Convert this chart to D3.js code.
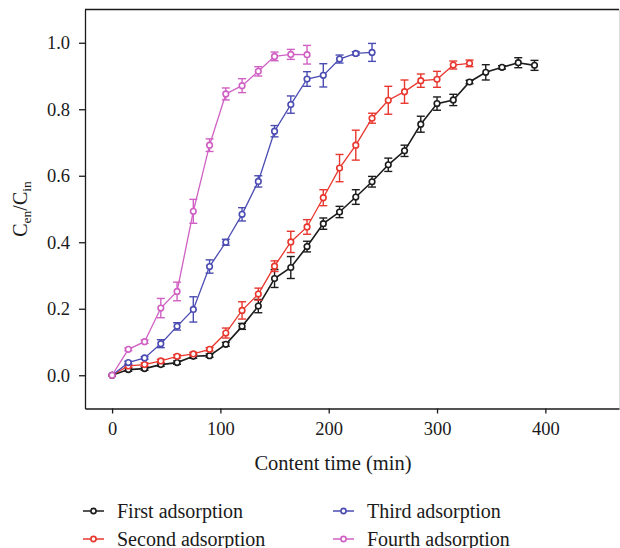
<!DOCTYPE html>
<html>
  <head>
    <meta charset="utf-8">
    <script src="https://d3js.org/d3.v7.min.js"></script>
    <style>
      body { margin: 0; background: #fff; }
      svg { display: block; font-family: 'Liberation Serif', 'DejaVu Serif', serif; }
      .tick text { font-family: 'Liberation Serif', 'DejaVu Serif', serif; font-size: 18.5px; fill: #1a1a1a; }
      .tick line, .domain { stroke: #1a1a1a; stroke-width: 1.3; }
    </style>
  </head>
  <body>
    <svg></svg>
    <script type="text/javascript">
      const times = [0, 15, 30, 45, 60, 75, 90, 105, 120, 135, 150, 165, 180, 195, 210,
                     225, 240, 255, 270, 285, 300, 315, 330, 345, 360, 375, 390]

      const firstValues = [0, 0.017, 0.020, 0.032, 0.038, 0.057, 0.059, 0.093, 0.147, 0.208,
                           0.291, 0.324, 0.387, 0.456, 0.491, 0.536, 0.582, 0.633, 0.675,
                           0.755, 0.817, 0.828, 0.882, 0.911, 0.926, 0.940, 0.932]
      const firstErrors = [0, 0.005, 0.005, 0.005, 0.005, 0.006, 0.005, 0.006, 0.009, 0.020,
                           0.027, 0.033, 0.016, 0.017, 0.017, 0.022, 0.016, 0.020, 0.017,
                           0.024, 0.020, 0.017, 0.005, 0.023, 0.005, 0.015, 0.015]

      const secondValues = [0, 0.028, 0.032, 0.043, 0.057, 0.064, 0.078, 0.127, 0.195, 0.244,
                            0.328, 0.401, 0.446, 0.534, 0.623, 0.692, 0.773, 0.827, 0.853,
                            0.886, 0.890, 0.933, 0.938]
      const secondErrors = [0, 0.004, 0.005, 0.005, 0.005, 0.005, 0.005, 0.015, 0.026, 0.018,
                            0.016, 0.032, 0.022, 0.024, 0.041, 0.045, 0.015, 0.042, 0.035,
                            0.020, 0.024, 0.012, 0.010]

      const thirdValues = [0, 0.038, 0.052, 0.095, 0.147, 0.198, 0.327, 0.400, 0.484, 0.583,
                           0.734, 0.814, 0.891, 0.902, 0.951, 0.968, 0.971]
      const thirdErrors = [0, 0.004, 0.004, 0.012, 0.011, 0.038, 0.020, 0.009, 0.020, 0.017,
                           0.017, 0.026, 0.022, 0.035, 0.012, 0.005, 0.027]

      const fourthValues = [0, 0.078, 0.101, 0.202, 0.252, 0.493, 0.692, 0.846, 0.871, 0.914,
                            0.959, 0.965, 0.964]
      const fourthErrors = [0, 0.004, 0.005, 0.029, 0.028, 0.036, 0.019, 0.018, 0.021, 0.014,
                            0.013, 0.015, 0.028]

      const seriesNames = ['First adsorption', 'Second adsorption', 'Third adsorption', 'Fourth adsorption']
      const xTicks = [0, 100, 200, 300, 400]
      const yTicks = [0, 0.2, 0.4, 0.6, 0.8, 1.0]

      const colors = ['#1c1c1c', '#e8372e', '#4b4cb2', '#d060c3']

      const series = [
        [firstValues, firstErrors],
        [secondValues, secondErrors],
        [thirdValues, thirdErrors],
        [fourthValues, fourthErrors]
      ].map(([vals, errs], i) => ({
        name: seriesNames[i],
        color: colors[i],
        points: vals.map((v, j) => ({t: times[j], v: v, e: errs[j]}))
      }))

      const width = 620
      const height = 548
      const plotLeft = 85, plotRight = 619, plotTop = 9.5, plotBottom = 408.5

      const svg = d3.select('svg')
        .attr('width', width)
        .attr('height', height)

      const x = d3.scaleLinear().domain([-25, 468]).range([plotLeft, plotRight])
      const y = d3.scaleLinear().domain([-0.1, 1.1]).range([plotBottom, plotTop])

      // frame: top line and light right edge
      svg.append('line')
        .attr('x1', plotLeft).attr('x2', plotRight)
        .attr('y1', plotTop).attr('y2', plotTop)
        .attr('stroke', '#1a1a1a').attr('stroke-width', 1.4)
      svg.append('line')
        .attr('x1', plotRight + 0.5).attr('x2', plotRight + 0.5)
        .attr('y1', plotTop).attr('y2', plotBottom)
        .attr('stroke', '#dcdcdc').attr('stroke-width', 1)

      svg.append('g')
        .attr('transform', `translate(0,${plotBottom})`)
        .call(d3.axisBottom(x).tickValues(xTicks).tickSize(5).tickPadding(8).tickSizeOuter(0)
          .tickFormat(d3.format('d')))

      svg.append('g')
        .attr('transform', `translate(${plotLeft},0)`)
        .call(d3.axisLeft(y).tickValues(yTicks).tickSize(6).tickPadding(9).tickSizeOuter(0)
          .tickFormat(d3.format('.1f')))

      // axis titles
      svg.append('text')
        .attr('x', 333)
        .attr('y', 470)
        .attr('text-anchor', 'middle')
        .attr('font-size', 20.5)
        .attr('fill', '#1a1a1a')
        .text('Content time (min)')

      const yTitle = svg.append('text')
        .attr('transform', `translate(27,${(plotTop + plotBottom) / 2}) rotate(-90)`)
        .attr('text-anchor', 'middle')
        .attr('font-size', 20)
        .attr('fill', '#1a1a1a')
      yTitle.append('tspan').text('C')
      yTitle.append('tspan').attr('font-size', 13.5).attr('dy', 4).text('en')
      yTitle.append('tspan').attr('dy', -4).text('/C')
      yTitle.append('tspan').attr('font-size', 13.5).attr('dy', 4).text('in')

      const line = d3.line().x(d => x(d.t)).y(d => y(d.v))

      const groups = svg.selectAll('.series')
        .data(series)
        .enter()
        .append('g')
          .attr('class', 'series')
          .attr('stroke', d => d.color)

      groups.append('path')
        .attr('d', d => line(d.points))
        .attr('fill', 'none')
        .attr('stroke-width', (d, i) => i === 0 ? 1.6 : 1.3)

      const bars = groups.selectAll('.err')
        .data(d => d.points.filter(p => p.e > 0))
        .enter()
        .append('g')
          .attr('class', 'err')
          .attr('stroke-width', 1.4)

      bars.append('line')
        .attr('x1', d => x(d.t)).attr('x2', d => x(d.t))
        .attr('y1', d => y(d.v - d.e)).attr('y2', d => y(d.v + d.e))
      bars.append('line')
        .attr('x1', d => x(d.t) - 4).attr('x2', d => x(d.t) + 4)
        .attr('y1', d => y(d.v + d.e)).attr('y2', d => y(d.v + d.e))
      bars.append('line')
        .attr('x1', d => x(d.t) - 4).attr('x2', d => x(d.t) + 4)
        .attr('y1', d => y(d.v - d.e)).attr('y2', d => y(d.v - d.e))

      groups.selectAll('circle')
        .data(d => d.points)
        .enter()
        .append('circle')
          .attr('cx', d => x(d.t))
          .attr('cy', d => y(d.v))
          .attr('r', 2.8)
          .attr('fill', '#fff')
          .attr('stroke-width', 1.6)

      // legend
      const legend = svg.selectAll('.legend')
        .data(series)
        .enter()
        .append('g')
          .attr('class', 'legend')
          .attr('transform', (d, i) => `translate(${i < 2 ? 83 : 333},${i % 2 === 0 ? 511 : 539})`)

      legend.append('line')
        .attr('x1', 0).attr('x2', 21)
        .attr('stroke', d => d.color)
        .attr('stroke-width', 1.5)
      legend.append('circle')
        .attr('cx', 10.5).attr('r', 2.6)
        .attr('fill', '#fff')
        .attr('stroke', d => d.color)
        .attr('stroke-width', 1.6)
      legend.append('text')
        .attr('x', 34)
        .attr('y', 6.5)
        .attr('font-size', 20)
        .attr('fill', '#1a1a1a')
        .text(d => d.name)
    </script>
  </body>
</html>
